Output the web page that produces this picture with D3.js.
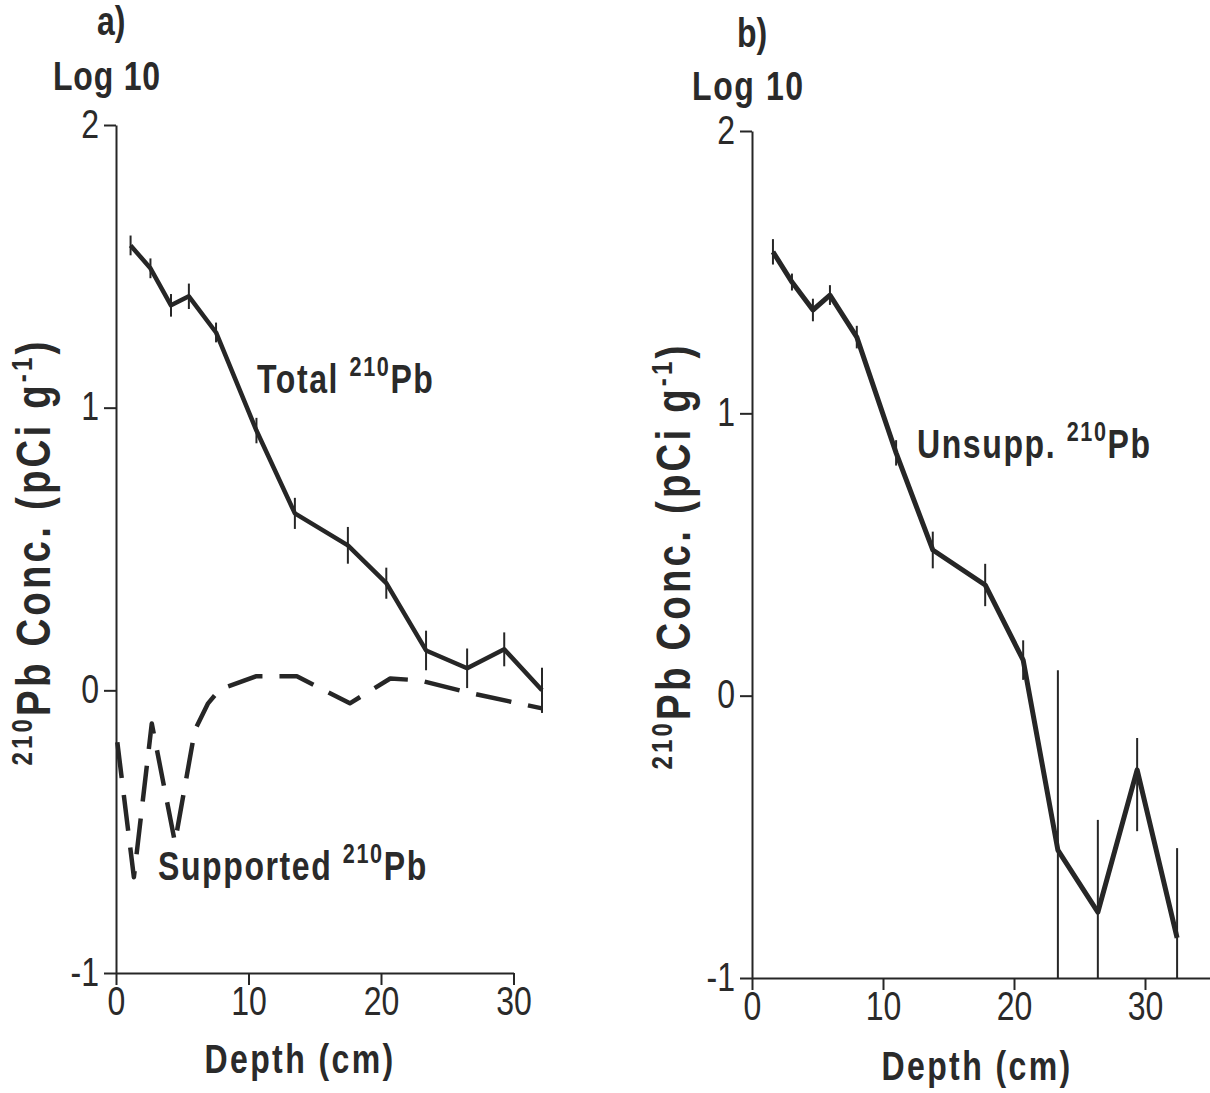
<!DOCTYPE html>
<html>
<head>
<meta charset="utf-8">
<script src="https://cdn.jsdelivr.net/npm/d3@7"></script>
<style>
  body { margin: 0; background: #fff; }
  svg { display: block; }
  text { fill: #2a2a2a; font-family: "Liberation Sans", Arial, sans-serif; }
  .bold { font-weight: bold; }
</style>
</head>
<body>
<svg id="chart" width="1210" height="1093"></svg>
<script>
// panel a: total and supported 210Pb (log10 values)
let totalDepth = [1.1, 2.6, 4.15, 5.5, 7.55, 10.6, 13.5, 17.5, 20.4, 23.4, 26.5, 29.3, 32.15];
let totalLog   = [1.574, 1.493, 1.362, 1.394, 1.266, 0.919, 0.626, 0.513, 0.379, 0.141, 0.078, 0.145, 0.0];
let totalErr   = [0.035, 0.035, 0.04, 0.045, 0.035, 0.045, 0.055, 0.065, 0.055, 0.07, 0.07, 0.06, 0.08];

let suppDepth = [0.1, 1.35, 2.7, 4.45, 5.95, 6.95, 7.85, 10.6, 13.65, 17.65, 20.7, 22.95, 26.5, 32.15];
let suppLog   = [-0.184, -0.661, -0.117, -0.538, -0.141, -0.046, 0.004, 0.05, 0.05, -0.046, 0.042, 0.035, -0.007, -0.064];

// panel b: unsupported 210Pb
let unsuppDepth = [1.6, 3.05, 4.65, 5.95, 8.0, 11.0, 13.8, 17.8, 20.7, 23.35, 26.4, 29.4, 32.45];
let unsuppLog   = [1.572, 1.465, 1.366, 1.419, 1.27, 0.86, 0.516, 0.392, 0.126, -0.547, -0.767, -0.263, -0.858];
let unsuppHi    = [1.617, 1.495, 1.406, 1.454, 1.31, 0.905, 0.581, 0.467, 0.196, 0.09, -0.44, -0.15, -0.54];
let unsuppLo    = [1.527, 1.435, 1.326, 1.384, 1.23, 0.815, 0.451, 0.317, 0.056, -1, -1, -0.48, -1];

let xTicks = [0, 10, 20, 30];
let yTicks = [-1, 0, 1, 2];

let svg = d3.select("#chart");
let ink = "#262626";
let squeeze = 0.8;   // the original uses a condensed bold face

function drawAxes(g, x, y) {
  let xa = g.append("g")
    .attr("transform", `translate(0,${y(-1)})`)
    .call(d3.axisBottom(x).tickValues(xTicks).tickSize(12).tickSizeOuter(0).tickPadding(2).tickFormat(d => String(d)));
  let ya = g.append("g")
    .attr("transform", `translate(${x(0)},0)`)
    .call(d3.axisLeft(y).tickValues(yTicks).tickSize(12).tickSizeOuter(0).tickFormat(d => String(d)));
  [xa, ya].forEach(a => {
    a.select(".domain").attr("stroke", ink).attr("stroke-width", 2);
    a.selectAll(".tick line").attr("stroke", ink).attr("stroke-width", 2);
    a.selectAll(".tick text").attr("font-size", 40).attr("fill", ink)
      .style("font-family", "'Liberation Sans Narrow', sans-serif");
  });
  xa.selectAll(".tick text").attr("transform", "scale(0.8,1)");
  ya.selectAll(".tick text").attr("x", -17 / 0.8).attr("dy", "0.3em").attr("transform", "scale(0.8,1)");
}

// bold condensed text placed at (x,y)
function boldText(g, x, y, size, spacing) {
  return g.append("text").attr("class", "bold")
    .attr("transform", `translate(${x},${y}) scale(${squeeze},1)`)
    .attr("font-size", size)
    .attr("letter-spacing", spacing);
}

function yTitle(g, cx, cy) {
  let t = g.append("text").attr("class", "bold")
    .attr("transform", `translate(${cx},${cy}) rotate(-90) scale(${squeeze},1)`)
    .attr("text-anchor", "middle")
    .attr("font-size", 48)
    .attr("letter-spacing", 4);
  t.append("tspan").attr("font-size", 30).attr("dy", -18).text("210");
  t.append("tspan").attr("dy", 18).text("Pb Conc. (pCi g");
  t.append("tspan").attr("font-size", 30).attr("dy", -18).text("-1");
  t.append("tspan").attr("dy", 18).text(")");
}

function label(g, x0, y0, main) {
  let t = boldText(g, x0, y0, 40, 2);
  t.append("tspan").text(main + " ");
  t.append("tspan").attr("font-size", 27).attr("dy", -17).text("210");
  t.append("tspan").attr("dy", 17).text("Pb");
}

function errorBars(g, x, y, depth, hi, lo) {
  g.append("g").selectAll("line").data(depth).join("line")
    .attr("x1", d => x(d)).attr("x2", d => x(d))
    .attr("y1", (d, i) => y(hi[i]))
    .attr("y2", (d, i) => y(lo[i]))
    .attr("stroke", ink).attr("stroke-width", 2);
}

// ---------- panel a ----------
let xa = d3.scaleLinear().domain([0, 30]).range([116, 513.5]);
let ya = d3.scaleLinear().domain([-1, 2]).range([973, 125]);
let ga = svg.append("g");
drawAxes(ga, xa, ya);

let lineA = d3.line().x(d => xa(d[0])).y(d => ya(d[1]));

ga.append("path")
  .datum(suppDepth.map((d, i) => [d, suppLog[i]]))
  .attr("d", lineA)
  .attr("fill", "none").attr("stroke", ink).attr("stroke-width", 4.5)
  .attr("stroke-dasharray", "36,17").attr("stroke-linejoin", "round");

errorBars(ga, xa, ya, totalDepth,
  totalLog.map((v, i) => v + totalErr[i]),
  totalLog.map((v, i) => v - totalErr[i]));

ga.append("path")
  .datum(totalDepth.map((d, i) => [d, totalLog[i]]))
  .attr("d", lineA)
  .attr("fill", "none").attr("stroke", ink).attr("stroke-width", 4.5)
  .attr("stroke-linejoin", "round");

boldText(ga, 97, 35, 40, 0).text("a)");
boldText(ga, 53, 90, 40, 1).text("Log 10");
boldText(ga, 300, 1073, 40, 3).attr("text-anchor", "middle").text("Depth (cm)");
yTitle(ga, 50, 552);
label(ga, 257, 393, "Total");
label(ga, 158, 880, "Supported");

// ---------- panel b ----------
let xb = d3.scaleLinear().domain([0, 35]).range([752, 1210.5]);
let yb = d3.scaleLinear().domain([-1, 2]).range([978, 131]);
let gb = svg.append("g");
drawAxes(gb, xb, yb);

errorBars(gb, xb, yb, unsuppDepth, unsuppHi, unsuppLo);

gb.append("path")
  .datum(unsuppDepth.map((d, i) => [d, unsuppLog[i]]))
  .attr("d", d3.line().x(d => xb(d[0])).y(d => yb(d[1])))
  .attr("fill", "none").attr("stroke", ink).attr("stroke-width", 5)
  .attr("stroke-linejoin", "round");

boldText(gb, 737, 47, 40, 0).text("b)");
boldText(gb, 692, 100, 40, 2).text("Log 10");
boldText(gb, 977, 1080, 40, 3).attr("text-anchor", "middle").text("Depth (cm)");
yTitle(gb, 690, 556);
label(gb, 917, 458, "Unsupp.");
</script>
</body>
</html>
